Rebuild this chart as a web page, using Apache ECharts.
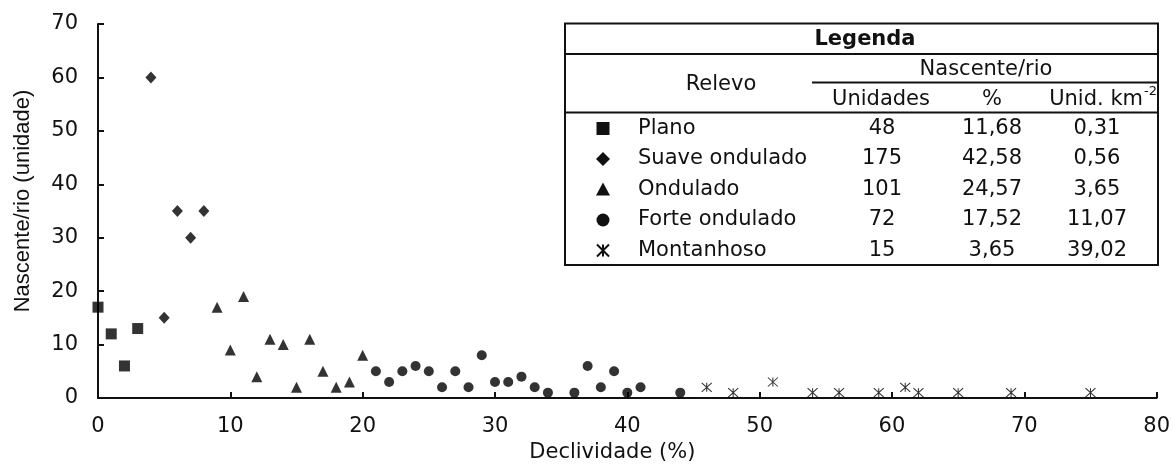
<!DOCTYPE html>
<html><head><meta charset="utf-8">
<script src="https://cdn.jsdelivr.net/npm/echarts@6/dist/echarts.min.js"></script>
<style>html,body{margin:0;padding:0;background:#fff}#c{width:1173px;height:468px}</style>
</head><body><div id="c"></div>
<script>
// ---- data ----
const planoDecl = [0, 1, 2, 3];
const planoNasc = [17, 12, 6, 13];
const suaveDecl = [4, 5, 6, 7, 8];
const suaveNasc = [60, 15, 35, 30, 35];
const onduladoDecl = [9, 10, 11, 12, 13, 14, 15, 16, 17, 18, 19, 20];
const onduladoNasc = [17, 9, 19, 4, 11, 10, 2, 11, 5, 2, 3, 8];
const forteDecl = [21, 22, 23, 24, 25, 26, 27, 28, 29, 30, 31, 32, 33, 34, 36, 37, 38, 39, 40, 41, 44];
const forteNasc = [5, 3, 5, 6, 5, 2, 5, 2, 8, 3, 3, 4, 2, 1, 1, 6, 2, 5, 1, 2, 1];
const montDecl = [46, 48, 51, 54, 56, 59, 61, 62, 65, 69, 75];
const montNasc = [2, 1, 3, 1, 1, 1, 2, 1, 1, 1, 1];

const relevoNames = ['Plano', 'Suave ondulado', 'Ondulado', 'Forte ondulado', 'Montanhoso'];
const unidades = ['48', '175', '101', '72', '15'];
const percentuais = ['11,68', '42,58', '24,57', '17,52', '3,65'];
const densidades = ['0,31', '0,56', '3,65', '11,07', '39,02'];

const xAxisName = 'Declividade (%)';
const yAxisName = 'Nascente/rio (unidade)';

// ---- helpers ----
function zip(a, b) { return a.map((v, i) => [v, b[i]]); }
const FF = 'DejaVu Sans';
const INK = '#111';
const STAR = 'path://M0,0L10,10M10,0L0,10M5,0L5,10';

function txt(t, x, y, align, extra) {
  return Object.assign({
    type: 'text', z: 10,
    style: Object.assign({
      text: t, x: x, y: y, fill: INK,
      font: '21px "' + FF + '"',
      align: align, verticalAlign: 'middle'
    }, extra || {})
  });
}

const tL = 565, tR = 1158, tT = 23.5, tB = 265;
const rowY = relevoNames.map((_, i) => 128.5 + i * 30.5);
const mx = 603;

const graphics = [
  { type: 'rect', z: 9, shape: { x: tL, y: tT, width: tR - tL, height: tB - tT },
    style: { fill: '#fff', stroke: INK, lineWidth: 2 } },
  { type: 'line', z: 10, shape: { x1: tL, y1: 54, x2: tR, y2: 54 }, style: { stroke: INK, lineWidth: 2 } },
  { type: 'line', z: 10, shape: { x1: tL, y1: 112.5, x2: tR, y2: 112.5 }, style: { stroke: INK, lineWidth: 2 } },
  { type: 'line', z: 10, shape: { x1: 812, y1: 82.5, x2: tR, y2: 82.5 }, style: { stroke: INK, lineWidth: 2 } },
  txt('Legenda', 865, 40, 'center', { font: 'bold 21px "' + FF + '"' }),
  txt('Relevo', 721, 85, 'center'),
  txt('Nascente/rio', 986, 70, 'center'),
  txt('Unidades', 881, 100, 'center'),
  txt('%', 992, 100, 'center'),
  txt('Unid. km', 1143, 100, 'right'),
  txt('-2', 1144, 92, 'left', { font: '13px "' + FF + '"' })
];

relevoNames.forEach((n, i) => {
  const y = rowY[i];
  graphics.push(txt(n, 638, y, 'left'));
  graphics.push(txt(unidades[i], 882, y, 'center'));
  graphics.push(txt(percentuais[i], 992, y, 'center'));
  graphics.push(txt(densidades[i], 1097, y, 'center'));
});

const ms = { fill: INK };
graphics.push({ type: 'rect', z: 10, shape: { x: mx - 6.5, y: rowY[0] - 6.5, width: 13, height: 13 }, style: ms });
graphics.push({ type: 'polygon', z: 10, shape: { points: [[mx, rowY[1] - 7], [mx + 7, rowY[1]], [mx, rowY[1] + 7], [mx - 7, rowY[1]]] }, style: ms });
graphics.push({ type: 'polygon', z: 10, shape: { points: [[mx, rowY[2] - 7], [mx + 7, rowY[2] + 6], [mx - 7, rowY[2] + 6]] }, style: ms });
graphics.push({ type: 'circle', z: 10, shape: { cx: mx, cy: rowY[3], r: 6.5 }, style: ms });
[[mx - 6, rowY[4] - 6, mx + 6, rowY[4] + 6], [mx + 6, rowY[4] - 6, mx - 6, rowY[4] + 6], [mx, rowY[4] - 6, mx, rowY[4] + 6]]
  .forEach(s => graphics.push({ type: 'line', z: 10, shape: { x1: s[0], y1: s[1], x2: s[2], y2: s[3] }, style: { stroke: INK, lineWidth: 2 } }));

const chart = echarts.init(document.getElementById('c'), null, { renderer: 'canvas' });
const axisCommon = {
  axisLine: { show: true, onZero: false, lineStyle: { color: INK, width: 2 } },
  axisTick: { show: true, inside: true, length: 6, lineStyle: { color: INK, width: 2 } },
  splitLine: { show: false },
};
chart.setOption({
  animation: false,
  backgroundColor: '#fff',
  grid: { left: 98, right: 15, top: 24, bottom: 66 },
  xAxis: Object.assign({
    type: 'value', min: 0, max: 80, interval: 10,
    name: xAxisName, nameLocation: 'middle', nameGap: 44,
    nameTextStyle: { fontFamily: FF, fontSize: 21, color: INK, padding: [0, 30, 0, 0] },
    axisLabel: { fontFamily: FF, fontSize: 21, color: INK, margin: 18 }
  }, axisCommon),
  yAxis: Object.assign({
    type: 'value', min: 0, max: 70, interval: 10,
    name: yAxisName, nameLocation: 'middle', nameGap: 64,
    nameTextStyle: { fontFamily: 'Liberation Sans', fontSize: 22, color: INK, padding: [0, 0, 0, 20] },
    axisLabel: { fontFamily: FF, fontSize: 21, color: INK, margin: 20 }
  }, axisCommon),
  series: [
    { type: 'scatter', name: 'Plano', data: zip(planoDecl, planoNasc), symbol: 'rect', symbolSize: 11, itemStyle: { color: '#000' } },
    { type: 'scatter', name: 'Suave ondulado', data: zip(suaveDecl, suaveNasc), symbol: 'diamond', symbolSize: [11, 12], itemStyle: { color: '#000' } },
    { type: 'scatter', name: 'Ondulado', data: zip(onduladoDecl, onduladoNasc), symbol: 'triangle', symbolSize: [11, 11], itemStyle: { color: '#000' } },
    { type: 'scatter', name: 'Forte ondulado', data: zip(forteDecl, forteNasc), symbol: 'circle', symbolSize: 10, itemStyle: { color: '#000' } },
    { type: 'scatter', name: 'Montanhoso', data: zip(montDecl, montNasc), symbol: STAR, symbolSize: [10, 9], itemStyle: { color: 'none', borderColor: '#000', borderWidth: 1 } }
  ],
  graphic: graphics
});
</script>
</body></html>
